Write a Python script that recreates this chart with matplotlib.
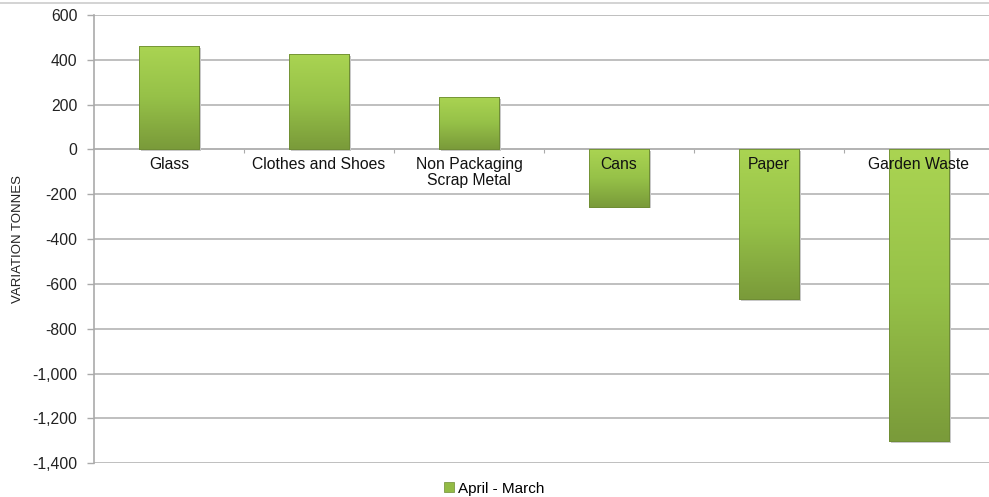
import numpy as np
import matplotlib.pyplot as plt
from matplotlib.colors import LinearSegmentedColormap

# data
categories = ['Glass', 'Clothes and Shoes', 'Non Packaging\nScrap Metal',
              'Cans', 'Paper', 'Garden Waste']
variation = [462, 425, 235, -255, -668, -1303]
series_name = 'April - March'

fig = plt.figure(figsize=(9.89, 4.97), dpi=100)
ax = fig.add_axes([0.095, 0.068, 0.91, 0.902])

x = np.arange(len(categories))
bars = ax.bar(x, variation, width=0.4, color='#93bb45', edgecolor='#6e8c33',
              linewidth=0.6, zorder=3, label=series_name)

# gradient fill on every bar, light at the top to darker at the bottom
grad = LinearSegmentedColormap.from_list('g', ['#aad452', '#96c148', '#7a9b3a'])
for b in bars:
    x0, w = b.get_x(), b.get_width()
    y0, h = b.get_y(), b.get_height()
    top, bot = max(y0, y0 + h), min(y0, y0 + h)
    # shadow
    ax.add_patch(plt.Rectangle((x0 + 0.012, bot - 8), w, top - bot,
                               color='#c8c8c8', zorder=2, lw=0))
    img = ax.imshow(np.linspace(0, 1, 100).reshape(-1, 1), cmap=grad,
                    extent=[x0, x0 + w, bot, top], aspect='auto', zorder=3.5,
                    origin='upper')
    img.set_clip_path(b)
    ax.add_patch(plt.Rectangle((x0, bot), w, top - bot, fill=False,
                               edgecolor='#6e8c33', lw=0.6, zorder=4))

ax.set_xlim(-0.5, len(categories) - 0.5)
ax.set_ylim(-1400, 600)
ax.set_yticks(np.arange(-1400, 601, 200))
ax.set_yticklabels(['{:,}'.format(v) for v in range(-1400, 601, 200)],
                   fontsize=11.3, color='#222222', family='Liberation Sans')
ax.yaxis.grid(True, color='#b4b4b4', lw=1.2, zorder=0)
ax.tick_params(axis='y', length=5, color='#aaaaaa', width=1, pad=7)

ax.spines['top'].set_visible(False)
ax.spines['right'].set_visible(False)
ax.spines['left'].set_color('#aaaaaa')
ax.spines['left'].set_linewidth(1.2)
ax.spines['bottom'].set_position(('data', 0))
ax.spines['bottom'].set_color('#aaaaaa')
ax.spines['bottom'].set_linewidth(1.2)
ax.spines['bottom'].set_zorder(1)
ax.set_xticks(np.arange(0.5, len(categories) - 0.5, 1))
ax.set_xticklabels([])
ax.tick_params(axis='x', length=3, color='#aaaaaa', direction='out')

for i, c in enumerate(categories):
    ax.text(i, -35, c, ha='center', va='top', fontsize=11.3, color='#111111',
            family='Liberation Sans', zorder=6, linespacing=1.05)

ax.set_ylabel('VARIATION TONNES', fontsize=9.5, color='#222222',
              family=['Liberation Sans Narrow', 'Liberation Sans'])
ax.yaxis.set_label_coords(-0.078, 0.5)

leg = fig.legend(handles=[plt.Rectangle((0, 0), 1, 1, facecolor='#93bb45',
                                        edgecolor='#6e8c33', lw=0.5)],
                 labels=[series_name], loc='lower center',
                 bbox_to_anchor=(0.5, -0.025), frameon=False,
                 prop={'family': 'Liberation Sans', 'size': 11},
                 handlelength=0.6, handleheight=0.6, handletextpad=0.3)

fig.add_artist(plt.Line2D([0, 1], [0.994, 0.994], color='#cccccc', lw=1.2))

fig.savefig('out.png', dpi=100)
